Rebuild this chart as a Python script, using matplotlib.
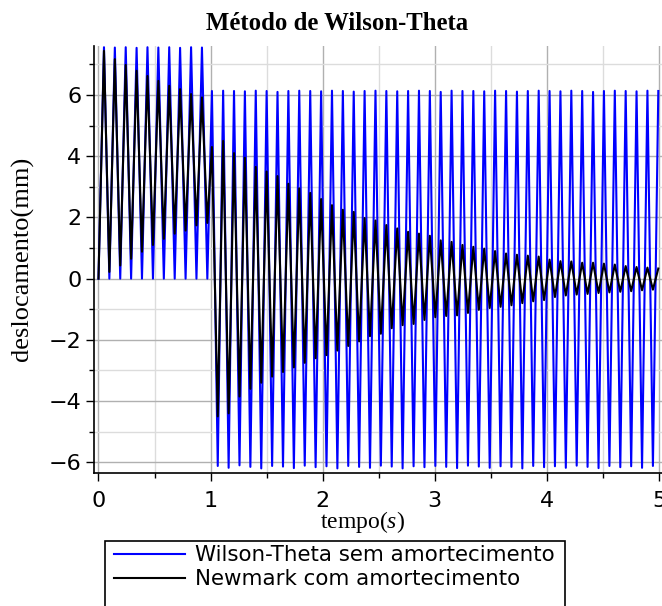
import matplotlib
matplotlib.use("Agg")
import matplotlib.pyplot as plt
from matplotlib.patches import Rectangle
from matplotlib.ticker import MultipleLocator

# turning points (peaks and troughs), time in s
t_turn = [
    0.0, 0.049, 0.097, 0.146, 0.194, 0.243, 0.291, 0.340, 0.388, 0.437,
    0.486, 0.534, 0.583, 0.631, 0.680, 0.728, 0.777, 0.826, 0.874, 0.923,
    0.971,
    1.012, 1.064, 1.112, 1.161, 1.209, 1.258, 1.306, 1.355, 1.403, 1.452,
    1.500, 1.549, 1.597, 1.646, 1.694, 1.743, 1.791, 1.840, 1.889, 1.937,
    1.986, 2.034, 2.083, 2.131, 2.180, 2.228, 2.277, 2.325, 2.374, 2.422,
    2.471, 2.519, 2.568, 2.616, 2.665, 2.713, 2.762, 2.811, 2.859, 2.908,
    2.956, 3.005, 3.053, 3.102, 3.150, 3.199, 3.247, 3.296, 3.344, 3.393,
    3.441, 3.490, 3.538, 3.587, 3.636, 3.684, 3.733, 3.781, 3.830, 3.878,
    3.927, 3.975, 4.024, 4.072, 4.121, 4.169, 4.218, 4.266, 4.315, 4.363,
    4.412, 4.461, 4.509, 4.558, 4.606, 4.655, 4.703, 4.752, 4.800, 4.849,
    4.897, 4.946, 4.994,
]

# Wilson-Theta, no damping (mm)
wilson_mm = [
    0.0, 7.56, 0.0, 7.55, 0.0, 7.56, 0.0, 7.54, 0.0, 7.56,
    0.0, 7.55, 0.0, 7.56, 0.0, 7.54, 0.0, 7.56, 0.0, 7.55,
    0.0,
    6.13, -6.12, 6.14, -6.18, 6.13, -6.10, 6.12, -6.15, 6.14, -6.20,
    6.13, -6.12, 6.10, -6.14, 6.13, -6.19, 6.14, -6.11, 6.13, -6.16,
    6.12, -6.13, 6.14, -6.20, 6.13, -6.12, 6.11, -6.15, 6.13, -6.18,
    6.14, -6.11, 6.13, -6.14, 6.12, -6.20, 6.13, -6.13, 6.14, -6.16,
    6.13, -6.12, 6.10, -6.15, 6.14, -6.19, 6.13, -6.11, 6.13, -6.14,
    6.12, -6.18, 6.14, -6.13, 6.13, -6.15, 6.11, -6.20, 6.13, -6.12,
    6.14, -6.16, 6.13, -6.13, 6.12, -6.18, 6.14, -6.11, 6.13, -6.15,
    6.10, -6.19, 6.13, -6.12, 6.14, -6.16, 6.13, -6.13, 6.12, -6.18,
    6.14, -6.12, 6.13,
]

# Newmark, with damping (mm)
newmark_mm = [
    0.0, 7.44, 0.22, 7.17, 0.43, 6.98, 0.65, 6.79, 0.88, 6.62,
    1.10, 6.46, 1.30, 6.30, 1.47, 6.19, 1.57, 6.03, 1.74, 5.92,
    1.82,
    4.30, -4.50, 4.50, -4.40, 4.10, -3.85, 3.95, -3.60, 3.65, -3.40,
    3.50, -3.20, 3.35, -3.05, 3.10, -2.90, 2.95, -2.75, 2.80, -2.60,
    2.60, -2.50, 2.40, -2.35, 2.25, -2.20, 2.18, -2.05, 1.98, -1.88,
    1.90, -1.80, 1.75, -1.62, 1.64, -1.52, 1.53, -1.48, 1.47, -1.35,
    1.40, -1.26, 1.25, -1.22, 1.20, -1.20, 1.10, -1.12, 1.04, -1.02,
    0.98, -0.96, 0.90, -0.92, 0.82, -0.87, 0.78, -0.80, 0.75, -0.74,
    0.72, -0.70, 0.62, -0.60, 0.57, -0.55, 0.56, -0.52, 0.52, -0.50,
    0.52, -0.47, 0.49, -0.45, 0.46, -0.43, 0.41, -0.41, 0.38, -0.38,
    0.36, -0.36, 0.33,
]

labels = ["Wilson-Theta sem amortecimento", "Newmark com amortecimento"]
title = "Método de Wilson-Theta"

plt.rcParams["mathtext.fontset"] = "custom"
plt.rcParams["mathtext.it"] = "Liberation Serif:italic"
plt.rcParams["mathtext.rm"] = "Liberation Serif"

W, H = 662, 606
fig = plt.figure(figsize=(W / 100, H / 100), dpi=100)
# axes box in pixels: left 94, right 662, top 46, bottom 473
ax = fig.add_axes([94 / W, (H - 473) / H, (W - 94) / W, (473 - 46) / H])

ax.plot(t_turn, wilson_mm, color="#0000ff", lw=1.5, label=labels[0])
ax.plot(t_turn, newmark_mm, color="black", lw=1.5, label=labels[1])

ax.set_xlim(-0.04, 5.027)
ax.set_ylim(-6.35, 7.6)

ax.xaxis.set_major_locator(MultipleLocator(1))
ax.xaxis.set_minor_locator(MultipleLocator(0.5))
ax.yaxis.set_major_locator(MultipleLocator(2))
ax.yaxis.set_minor_locator(MultipleLocator(1))
ax.grid(which="major", color="#b0b0b0", lw=1.0)
ax.grid(which="minor", color="#dcdcdc", lw=1.0)
ax.set_axisbelow(True)

for side in ["top", "right"]:
    ax.spines[side].set_visible(False)
for side in ["left", "bottom"]:
    ax.spines[side].set_linewidth(1.2)

ax.tick_params(which="major", length=6, width=1.0, labelsize=16)
ax.tick_params(which="minor", length=3.5, width=1.0)
ax.tick_params(axis="x", pad=7)
ax.tick_params(axis="y", pad=3)
for lab in ax.get_xticklabels() + ax.get_yticklabels():
    lab.set_family("DejaVu Sans")

fig.text(0.509, 0.962, title, ha="center", va="center",
         family="Liberation Serif", weight="bold", fontsize=17.8)
fig.text(0.547, 0.138, "tempo($s$)", ha="center", va="center",
         family="Liberation Serif", fontsize=17)
fig.text(0.034, 0.572, "deslocamento(mm)", ha="center", va="center",
         rotation=90, family="Liberation Serif", fontsize=19)

# legend box runs off the bottom edge, like the original
leg = fig.legend(loc="upper left", bbox_to_anchor=(114 / W, (H - 545) / H),
                 frameon=False,
                 prop={"family": "DejaVu Sans", "size": 15.4},
                 handlelength=3.3, handletextpad=0.5, borderpad=0.0,
                 labelspacing=0.2, borderaxespad=0)
fig.add_artist(Rectangle((105 / W, -0.02), (565 - 105) / W, (H - 541) / H + 0.02,
                         transform=fig.transFigure, fill=False,
                         edgecolor="black", lw=1.2))

fig.savefig("out.png", dpi=100)
